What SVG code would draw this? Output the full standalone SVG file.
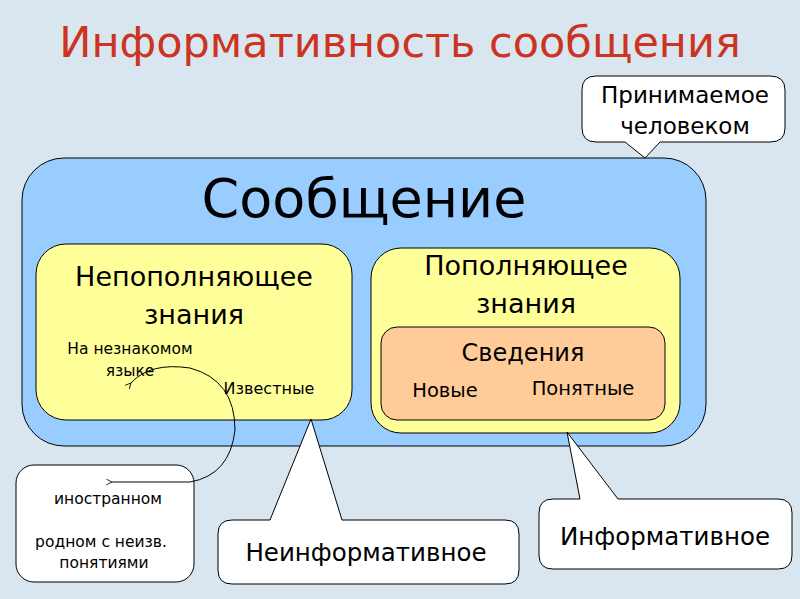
<svg xmlns="http://www.w3.org/2000/svg" width="800" height="599" viewBox="0 0 800 599">
<defs>
<style>
text{font-family:"DejaVu Sans","Liberation Sans",Arial,sans-serif;fill:#000}
.c{text-anchor:middle}
.call{fill:#fff;stroke:#000;stroke-width:1}
</style>
<marker id="ah" viewBox="0 0 10 10" refX="1" refY="5" markerWidth="7" markerHeight="7" orient="auto-start-reverse"><path d="M9,1 L1,5 L9,9" fill="none" stroke="#000" stroke-width="1.2"/></marker>
</defs>
<rect width="800" height="599" fill="#d9e6f0"/>
<text x="400" y="57" class="c" font-size="43" style="fill:#cc3320">Информативность сообщения</text>
<g id="message">
<rect x="22" y="158" width="684" height="288" rx="42" fill="#99ccff" stroke="#000"/>
<text x="364" y="217" class="c" font-size="54">Сообщение</text>
</g>
<g id="nonfill">
<rect x="36" y="244" width="316" height="176" rx="30" fill="#ffff99" stroke="#000"/>
<text x="194" y="286" class="c" font-size="27">Непополняющее</text>
<text x="194" y="324" class="c" font-size="27">знания</text>
<text x="130" y="354" class="c" font-size="15.5">На незнакомом</text>
<text x="130" y="376" class="c" font-size="15.5">языке</text>
<text x="269" y="394" class="c" font-size="16">Известные</text>
</g>
<g id="fill">
<rect x="371" y="248" width="309" height="185" rx="30" fill="#ffff99" stroke="#000"/>
<text x="526" y="275" class="c" font-size="27">Пополняющее</text>
<text x="526" y="313" class="c" font-size="27">знания</text>
</g>
<g id="info">
<rect x="381" y="327" width="284" height="93" rx="16" fill="#ffcc99" stroke="#000"/>
<text x="523" y="361" class="c" font-size="24">Сведения</text>
<text x="445" y="397" class="c" font-size="19.5">Новые</text>
<text x="583" y="395" class="c" font-size="19.5">Понятные</text>
</g>
<g id="accepted">
<path class="call" d="M596,76 H770 Q785,76 785,90 V128 Q785,142 770,142 H660 L645,158 L625,142 H596 Q582,142 582,128 V90 Q582,76 596,76 Z"/>
<text x="685" y="103" class="c" font-size="23">Принимаемое</text>
<text x="685" y="134" class="c" font-size="23">человеком</text>
</g>
<g id="foreign">
<rect x="16" y="465" width="178" height="117" rx="18" class="call"/>
<text x="108" y="504" class="c" font-size="15.5">иностранном</text>
<text x="101" y="547" class="c" font-size="15.5">родном с неизв.</text>
<text x="104" y="568" class="c" font-size="15.5">понятиями</text>
</g>
<g id="noninf">
<path class="call" d="M232,520 Q218,520 218,534 V570 Q218,584 232,584 H505 Q519,584 519,570 V534 Q519,520 505,520 H342 L311,419 L270,520 Z"/>
<text x="366" y="561" class="c" font-size="24.5">Неинформативное</text>
</g>
<g id="informative">
<path class="call" d="M553,499 Q539,499 539,513 V555 Q539,569 553,569 H778 Q792,569 792,555 V513 Q792,499 778,499 H618 L567,432 L580,499 Z"/>
<text x="665" y="545" class="c" font-size="24.5">Информативное</text>
</g>
<g id="connectors">
<path d="M131,383 Q150,362 190,368 Q235,380 235,430 Q230,475 190,482 L112,482" fill="none" stroke="#000" stroke-width="1" marker-start="url(#ah)" marker-end="url(#ah)"/>
</g>
</svg>
